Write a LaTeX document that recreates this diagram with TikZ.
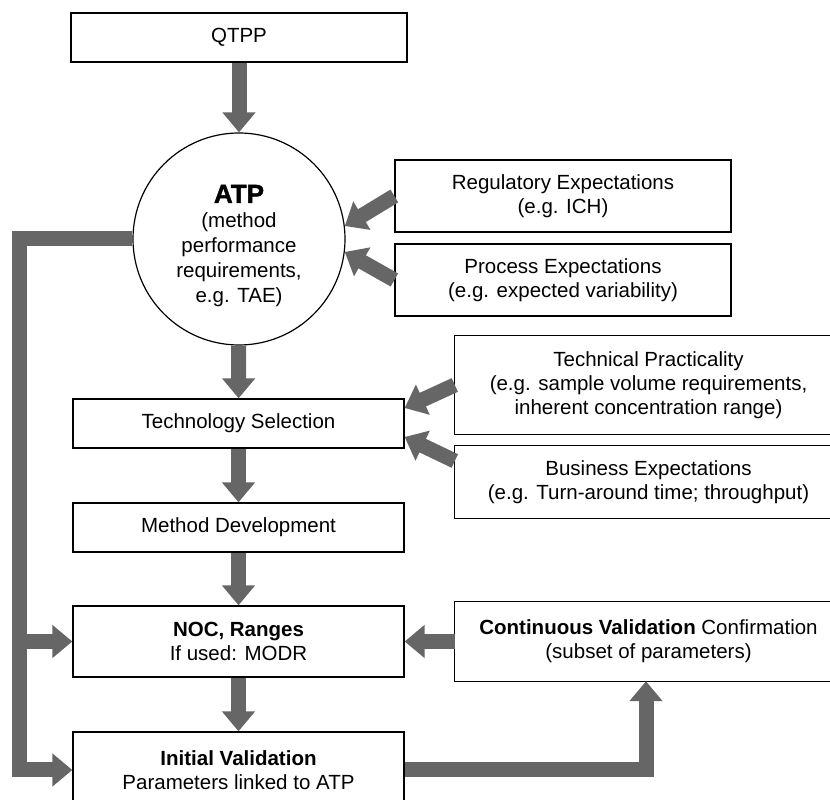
\documentclass[tikz,border=0pt]{standalone}
\usepackage{fontspec}
\setmainfont{Liberation Sans}
\newfontfamily\heavyfont[BoldFeatures={FakeBold=1.5}]{Liberation Sans}
\usetikzlibrary{arrows.meta}

\definecolor{flowgray}{RGB}{102,102,102}
\tikzset{
  box/.style={draw, line width=1.3pt, align=center, inner sep=0pt},
  cutbox/.style={align=center, inner sep=0pt},
  flow/.style={line width=15pt, color=flowgray, -{Triangle[width=32pt,length=20pt]}},
}

\begin{document}
\begin{tikzpicture}[x=1pt,y=1pt,font=\fontsize{20.5}{24}\selectfont]
	\useasboundingbox (0,0) rectangle (830,800);
	\clip (0,0) rectangle (830,800);
	% main column
	\node[box, minimum width=336pt, minimum height=49pt] (qtpp) at (239,762.5) {QTPP};
	\node[draw, circle, line width=1.2pt, minimum size=212pt, inner sep=0pt] (atp) at (239,561) {};
	\node[align=center, inner sep=0pt, font=\fontsize{20.5}{25}\selectfont] (atptext) at (239,554)
	      {{\fontsize{26}{27}\selectfont\heavyfont\bfseries ATP}\\(method\\performance\\requirements,\\e.g. TAE)};
	\node[box, minimum width=331pt, minimum height=49pt] (techsel) at (238.5,376.5) {Technology Selection};
	\node[box, minimum width=331pt, minimum height=49pt] (methdev) at (238.5,272.5) {Method Development};
	\node[box, minimum width=331pt, minimum height=71pt] (noc) at (238.5,158.5) {\textbf{NOC, Ranges}\\If used: MODR};
	\node[box, minimum width=331pt, minimum height=76pt] (initval) at (238.5,30) {\textbf{Initial Validation}\\Parameters linked to ATP};
	% inputs on the right
	\node[box, minimum width=336pt, minimum height=72pt] (regexp) at (563,604) {Regulatory Expectations\\(e.g. ICH)};
	\node[box, minimum width=336pt, minimum height=72pt] (procexp) at (563,520) {Process Expectations\\(e.g. expected variability)};
	\node[cutbox, minimum width=387pt, minimum height=98pt] (techprac) at (648.5,415) {Technical Practicality\\(e.g. sample volume requirements,\\inherent concentration range)};
	\node[cutbox, minimum width=387pt, minimum height=72pt] (busexp) at (648.5,318) {Business Expectations\\(e.g. Turn-around time; throughput)};
	\node[cutbox, minimum width=387pt, minimum height=79pt] (contval) at (648.5,158.5) {\textbf{Continuous Validation} Confirmation\\(subset of parameters)};
	% these run off the right edge
	\foreach \n in {techprac,busexp,contval}
		\draw[line width=1.3pt] ([xshift=40pt]\n.north east) -| (\n.south west) -- ([xshift=40pt]\n.south east);
	% flow arrows
	\draw[flow] (qtpp) -- (atp);
	\draw[flow] (atp) -- (techsel);
	\draw[flow] (techsel) -- (methdev);
	\draw[flow] (methdev) -- (noc);
	\draw[flow] (noc) -- (initval);
	\draw[flow] (regexp.west) -- (atp.7);
	\draw[flow] (procexp.west) -- (atp.-7);
	\draw[flow] (techprac.west) -- ([yshift=15.5pt]techsel.east);
	\draw[flow] ([yshift=21pt]busexp.west) -- ([yshift=-13.5pt]techsel.east);
	\draw[flow] (contval.west) -- (noc.east);
	% feedback loop
	\coordinate (fbtop) at (19,561);
	\coordinate (fbmid) at (19,158.5);
	\draw[flow] (atp.west) -- (fbtop) -- (19,30) -- (initval.west);
	\draw[flow] (fbmid) -- (noc.west);
	\draw[flow] (initval.east) -| ([xshift=-2.5pt]contval.south);
\end{tikzpicture}
\end{document}
